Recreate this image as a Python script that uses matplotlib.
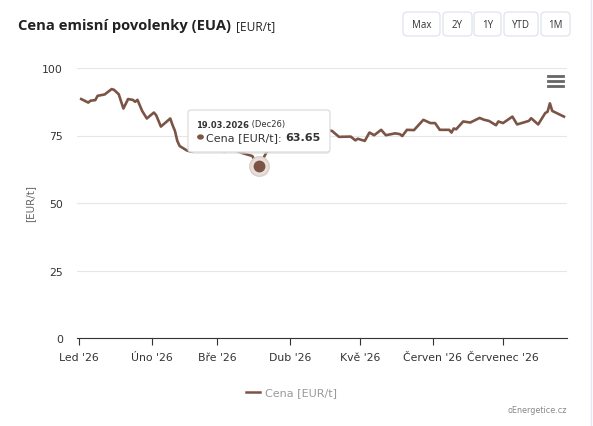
import matplotlib
matplotlib.use("Agg")
import matplotlib.pyplot as plt
import matplotlib.dates as mdates
from matplotlib.patches import FancyBboxPatch, Circle
from matplotlib.lines import Line2D
import numpy as np

# EUA price (EUR/t)
dates = [
    "2026-01-02", "2026-01-05", "2026-01-06", "2026-01-08", "2026-01-09", "2026-01-12",
    "2026-01-15", "2026-01-16", "2026-01-18", "2026-01-20", "2026-01-22", "2026-01-24",
    "2026-01-25", "2026-01-26", "2026-01-28", "2026-01-30", "2026-02-02", "2026-02-03",
    "2026-02-05", "2026-02-07", "2026-02-09", "2026-02-10", "2026-02-11", "2026-02-12",
    "2026-02-13", "2026-02-16", "2026-02-18", "2026-02-20", "2026-02-23", "2026-02-25",
    "2026-02-27", "2026-03-02", "2026-03-04", "2026-03-06", "2026-03-09", "2026-03-11",
    "2026-03-16", "2026-03-18", "2026-03-19", "2026-03-22", "2026-03-24", "2026-03-27",
    "2026-03-30", "2026-04-02", "2026-04-05", "2026-04-08", "2026-04-11", "2026-04-14",
    "2026-04-17", "2026-04-19", "2026-04-22", "2026-04-27", "2026-04-29", "2026-04-30",
    "2026-05-03", "2026-05-05", "2026-05-07", "2026-05-10", "2026-05-12", "2026-05-16",
    "2026-05-18", "2026-05-19", "2026-05-21", "2026-05-24", "2026-05-28", "2026-05-31",
    "2026-06-02", "2026-06-04", "2026-06-08", "2026-06-09", "2026-06-10", "2026-06-11",
    "2026-06-14", "2026-06-17", "2026-06-21", "2026-06-23", "2026-06-25", "2026-06-28",
    "2026-06-29", "2026-07-01", "2026-07-05", "2026-07-07", "2026-07-12", "2026-07-13",
    "2026-07-16", "2026-07-19", "2026-07-20", "2026-07-21", "2026-07-22", "2026-07-27",
]
prices = [
    88.5, 87.2, 87.9, 88.1, 89.7, 90.2,
    92.2, 91.9, 90.3, 85.0, 88.5, 88.2,
    87.5, 88.2, 84.1, 81.3, 83.5, 82.5,
    78.3, 79.8, 81.3, 78.8, 76.7, 73.0,
    71.1, 69.5, 69.0, 69.8, 70.2, 69.5,
    70.5, 70.0, 69.2, 70.1, 69.4, 68.7,
    67.4, 64.3, 63.65, 68.7, 70.5, 72.0,
    73.5, 72.8, 74.5, 75.2, 76.0, 75.4,
    77.0, 76.7, 74.5, 74.6, 73.2, 73.8,
    73.0, 76.1, 75.1, 77.1, 75.1, 75.8,
    75.5, 74.8, 77.1, 77.0, 80.8, 79.6,
    79.6, 77.1, 77.1, 76.1, 77.6, 77.3,
    80.2, 79.8, 81.5, 80.8, 80.4, 78.8,
    80.2, 79.6, 82.0, 79.1, 80.4, 81.4,
    79.1, 83.3, 83.8, 86.9, 84.1, 82.0,
]
month_ticks = ["2026-01-01", "2026-02-01", "2026-03-01", "2026-04-01",
               "2026-05-01", "2026-06-01", "2026-07-01"]
month_labels = ["Led '26", "Úno '26", "Bře '26", "Dub '26", "Kvě '26",
                "Červen '26", "Červenec '26"]
y_ticks = [0, 25, 50, 75, 100]
buttons = ["Max", "2Y", "1Y", "YTD", "1M"]
hover_date = "2026-03-19"
hover_value = 63.65

W, H = 593, 427
LINE = "#7b5446"
FONT = "DejaVu Sans"

fig = plt.figure(figsize=(W / 100, H / 100), dpi=100)
fig.patch.set_facecolor("white")


def fx(px):
    return px / W


def fy(py):
    return 1 - py / H


x = mdates.date2num(np.array(dates, dtype="datetime64[D]"))
start = mdates.date2num(np.datetime64("2026-01-01"))

ax = fig.add_axes([fx(77), fy(339), fx(567) - fx(77), fy(69) - fy(339)])
ax.plot(x, prices, color=LINE, lw=1.9, solid_joinstyle="round", zorder=3)
ax.set_xlim(start - 0.8, start + 208.3)
ax.set_ylim(0, 100)

ax.set_yticks(y_ticks)
ax.set_yticklabels([str(v) for v in y_ticks], fontsize=7.8, color="#333333", family=FONT)
ax.tick_params(axis="y", length=0, pad=10)
ax.grid(axis="y", color="#e6e6e6", lw=0.8)
ax.set_axisbelow(True)

ax.set_xticks(mdates.date2num(np.array(month_ticks, dtype="datetime64[D]")))
ax.set_xticklabels(month_labels, fontsize=7.8, color="#333333", family=FONT)
ax.tick_params(axis="x", length=5, width=0.8, color="#333333", pad=5)

for s in ["top", "right", "left"]:
    ax.spines[s].set_visible(False)
ax.spines["bottom"].set_color("#333333")
ax.spines["bottom"].set_linewidth(0.8)

ax.set_ylabel("[EUR/t]", fontsize=7.5, color="#666666", family=FONT, labelpad=5)

# hovered point
hx = mdates.date2num(np.datetime64(hover_date))
ax.plot([hx], [hover_value], "o", ms=14, color="#e8dedb", mec="#d9cdc8", zorder=4)
ax.plot([hx], [hover_value], "o", ms=7.5, color=LINE, zorder=5)

# header
title = fig.text(fx(18), fy(26), "Cena emisní povolenky (EUA)", fontsize=10.6,
                 fontweight="bold", color="#222222", family="Open Sans", va="center")
fig.canvas.draw()
r = fig.canvas.get_renderer()
bb = title.get_window_extent(r)
fig.text(fx(bb.x1 + 5), fy(26.5), "[EUR/t]", fontsize=8.6, color="#222222",
         family="Open Sans", va="center")

btn_x = [(403, 440), (443, 472), (474, 501), (504, 538), (541, 570)]
for (x0, x1), lab in zip(btn_x, buttons):
    fig.add_artist(FancyBboxPatch((fx(x0), fy(37)), fx(x1 - x0), fy(13) - fy(37),
                                  boxstyle="round,pad=0,rounding_size=0.008",
                                  transform=fig.transFigure, fc="white",
                                  ec="#dfe4ec", lw=0.9))
    fig.text(fx((x0 + x1) / 2), fy(25), lab, fontsize=7, color="#333333",
             family="Open Sans", ha="center", va="center")

# menu icon
for yy in [77, 82, 87]:
    fig.add_artist(Line2D([fx(548), fx(563)], [fy(yy), fy(yy)], color="#666666",
                          lw=2, transform=fig.transFigure))

# tooltip
fig.add_artist(FancyBboxPatch((fx(190), fy(155)), fx(140), fy(112) - fy(155),
                              boxstyle="round,pad=0,rounding_size=0.006",
                              transform=fig.transFigure, fc="#dddddd",
                              ec="none", alpha=0.6, zorder=9))
fig.add_artist(FancyBboxPatch((fx(188), fy(153)), fx(142), fy(111) - fy(153),
                              boxstyle="round,pad=0,rounding_size=0.006",
                              transform=fig.transFigure, fc="white",
                              ec="#d9d9d9", lw=0.8, zorder=10))


def write_run(xpx, ypx, parts):
    cur = xpx
    for txt, size, weight, col in parts:
        t = fig.text(fx(cur), fy(ypx), txt, fontsize=size, fontweight=weight,
                     color=col, family=FONT, va="center", zorder=11)
        cur = t.get_window_extent(r).x1


write_run(196, 125, [("19.03.2026", 6.0, "bold", "#333333"),
                     (" (Dec26)", 6.0, "normal", "#333333")])
fig.add_artist(Circle((fx(200.5), fy(138)), 0.0045, color=LINE,
                      transform=fig.transFigure, zorder=11))
write_run(206, 138, [("Cena [EUR/t]: ", 8.0, "normal", "#333333"),
                     ("63.65", 8.0, "bold", "#333333")])

# legend + credit
fig.add_artist(Line2D([fx(246), fx(260)], [fy(393), fy(393)], color=LINE, lw=1.8,
                      transform=fig.transFigure))
fig.text(fx(265), fy(393), "Cena [EUR/t]", fontsize=8.0, color="#999999",
         family=FONT, va="center")
fig.text(fx(567), fy(411), "oEnergetice.cz", fontsize=5.8, color="#888888",
         family=FONT, ha="right", va="center")

# card edge
fig.add_artist(Line2D([fx(591), fx(591)], [0, 1], color="#e3e7ee", lw=1,
                      transform=fig.transFigure))

fig.savefig("out.png", dpi=100)
